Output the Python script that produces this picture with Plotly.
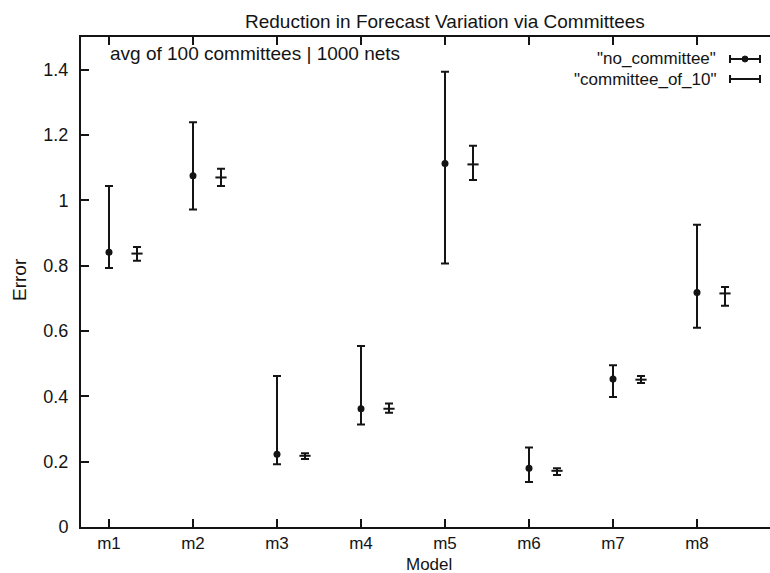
import plotly.graph_objects as go

# ---- data -------------------------------------------------------------
models = ["m1", "m2", "m3", "m4", "m5", "m6", "m7", "m8"]

# single nets: mean error with min / max over the 1000 nets
no_committee_mean = [0.841, 1.075, 0.223, 0.362, 1.113, 0.180, 0.453, 0.718]
no_committee_high = [1.044, 1.239, 0.462, 0.554, 1.394, 0.243, 0.495, 0.925]
no_committee_low = [0.793, 0.972, 0.192, 0.314, 0.807, 0.138, 0.398, 0.610]

# committees of 10 nets: mean error with min / max over 100 committees
committee_mean = [0.837, 1.070, 0.218, 0.362, 1.110, 0.172, 0.451, 0.715]
committee_high = [0.857, 1.097, 0.226, 0.378, 1.167, 0.180, 0.462, 0.735]
committee_low = [0.815, 1.044, 0.208, 0.350, 1.062, 0.159, 0.441, 0.677]

y_ticks = [0, 0.2, 0.4, 0.6, 0.8, 1.0, 1.2, 1.4]

# ---- layout constants -------------------------------------------------
W, H = 770, 573
L, R, T, B = 81, 0, 37, 46
PW, PH = W - L - R, H - T - B
FONT = "Liberation Sans, Arial, sans-serif"
INK = "#141414"
TXT = 19
OFFSET = 1 / 3  # horizontal shift of the committee bars

x_pos = list(range(1, len(models) + 1))
x_comm = [x + OFFSET for x in x_pos]


def px(x):
    return (x - L) / PW


def py(y):
    return (H - B - y) / PH


def up(mean, high):
    return [h - m for m, h in zip(mean, high)]


def down(mean, low):
    return [m - lo for m, lo in zip(mean, low)]


fig = go.Figure()

fig.add_trace(go.Scatter(
    x=x_pos, y=no_committee_mean, mode="markers", name='"no_committee"',
    marker=dict(symbol="circle", size=7, color=INK),
    error_y=dict(type="data", symmetric=False,
                 array=up(no_committee_mean, no_committee_high),
                 arrayminus=down(no_committee_mean, no_committee_low),
                 color=INK, thickness=2, width=4),
    showlegend=False,
))

fig.add_trace(go.Scatter(
    x=x_comm, y=committee_mean, mode="markers", name='"committee_of_10"',
    marker=dict(symbol="line-ew", size=8, line=dict(color=INK, width=2)),
    error_y=dict(type="data", symmetric=False,
                 array=up(committee_mean, committee_high),
                 arrayminus=down(committee_mean, committee_low),
                 color=INK, thickness=2, width=4),
    showlegend=False,
))

# ---- key (drawn by hand, gnuplot style) -------------------------------
key_rows = [('"no_committee"', 59, True), ('"committee_of_10"', 79, False)]
shapes = []
annotations = []
for label, yk, dot in key_rows:
    annotations.append(dict(
        x=px(717), y=py(yk), xref="paper", yref="paper", text=label,
        showarrow=False, xanchor="right", yanchor="middle", borderpad=0,
        font=dict(family=FONT, size=17, color=INK)))
    shapes.append(dict(type="line", xref="paper", yref="paper",
                       x0=px(730), x1=px(760), y0=py(yk), y1=py(yk),
                       line=dict(color=INK, width=2)))
    for xc in (730, 760):
        shapes.append(dict(type="line", xref="paper", yref="paper",
                           x0=px(xc), x1=px(xc), y0=py(yk - 4), y1=py(yk + 4),
                           line=dict(color=INK, width=2)))
    if dot:
        shapes.append(dict(type="circle", xref="paper", yref="paper",
                           x0=px(742), x1=px(748), y0=py(yk - 3), y1=py(yk + 3),
                           fillcolor=INK, line=dict(color=INK, width=1)))

annotations += [
    dict(x=px(445), y=py(21), xref="paper", yref="paper",
         text="Reduction in Forecast Variation via Committees",
         showarrow=False, xanchor="center", yanchor="middle",
         font=dict(family=FONT, size=TXT, color=INK)),
    dict(x=px(108), y=py(54), xref="paper", yref="paper",
         text="avg of 100 committees | 1000 nets",
         showarrow=False, xanchor="left", yanchor="middle",
         font=dict(family=FONT, size=TXT, color=INK)),
    dict(x=px(19), y=py(280), xref="paper", yref="paper", text="Error",
         textangle=-90, showarrow=False, xanchor="center", yanchor="middle",
         font=dict(family=FONT, size=TXT, color=INK)),
    dict(x=px(429), y=py(564), xref="paper", yref="paper", text="Model",
         showarrow=False, xanchor="center", yanchor="middle", borderpad=0,
         font=dict(family=FONT, size=17, color=INK)),
]

fig.update_layout(
    width=W, height=H,
    margin=dict(l=L, r=R, t=T, b=B, pad=0),
    paper_bgcolor="white", plot_bgcolor="white",
    font=dict(family=FONT, size=18, color=INK),
    shapes=shapes, annotations=annotations,
    showlegend=False,
    xaxis=dict(
        range=[1 - 28 / 84, 1 + 661 / 84],
        tickmode="array", tickvals=x_pos, ticktext=models,
        ticks="inside", ticklen=8, tickwidth=2, tickcolor=INK,
        showline=True, linewidth=2, linecolor=INK, mirror="ticks",
        showgrid=False, zeroline=False,
        tickfont=dict(family=FONT, size=17, color=INK),
    ),
    yaxis=dict(
        range=[0, 1.5],
        tickmode="array", tickvals=y_ticks,
        ticktext=[f"{v:g}" for v in y_ticks],
        ticks="inside", ticklen=8, tickwidth=2, tickcolor=INK,
        showline=True, linewidth=2, linecolor=INK, mirror=False,
        showgrid=False, zeroline=False, ticklabelstandoff=7,
        tickfont=dict(family=FONT, size=18, color=INK),
    ),
)

fig.write_html("out.html")
